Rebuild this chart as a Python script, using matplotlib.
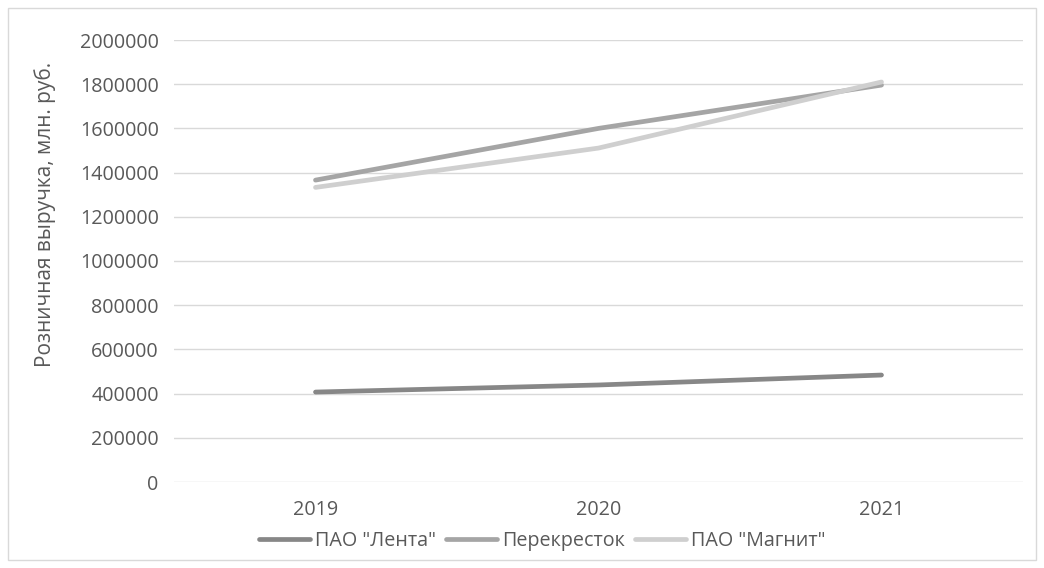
import matplotlib
matplotlib.use("Agg")
import matplotlib.pyplot as plt
from matplotlib.patches import Rectangle

years = ["2019", "2020", "2021"]
lenta = [407000, 439000, 484000]
perekrestok = [1366000, 1600000, 1796000]
magnit = [1333000, 1511000, 1810000]
series_names = ['ПАО "Лента"', 'Перекресток', 'ПАО "Магнит"']
colors = ["#878787", "#a5a5a5", "#cfcfcf"]
yticks = list(range(0, 2000001, 200000))

plt.rcParams['font.family'] = ['Open Sans', 'DejaVu Sans']
FS = 14.2

fig = plt.figure(figsize=(10.44, 5.68), dpi=100)
ax = fig.add_axes([174/1044, 1-482/568, (1023-174)/1044, (482-40)/568])

x = list(range(len(years)))
for vals, name, c in zip([lenta, perekrestok, magnit], series_names, colors):
    ax.plot(x, vals, color=c, lw=3.4, solid_capstyle='round', label=name, zorder=3)

ax.set_xlim(-0.5, len(years) - 0.5)
ax.set_ylim(0, 2000000)
ax.set_yticks(yticks)
ax.set_yticklabels([str(v) for v in yticks])
ax.set_xticks(x)
ax.set_xticklabels(years)
ax.tick_params(axis='both', length=0, colors='#595959', labelsize=FS)
ax.tick_params(axis='y', pad=11)
ax.tick_params(axis='x', pad=13)
ax.grid(axis='y', color='#d9d9d9', lw=1)
ax.set_axisbelow(True)
for s in ax.spines.values():
    s.set_visible(False)
ax.set_ylabel("Розничная выручка, млн. руб.", color='#595959', fontsize=15)
ax.yaxis.set_label_coords((56 - 174) / (1023 - 174), (482 - 214) / 442)

leg = fig.legend(loc='center', bbox_to_anchor=(542/1044, 1-541/568), ncol=3, frameon=False,
                 fontsize=FS, handlelength=2.6, columnspacing=0.5, handletextpad=0.25,
                 labelcolor='#595959')
for h in leg.get_lines():
    h.set_linewidth(3.4)

fig.patches.append(Rectangle((8/1044, 8/568), 1028/1044, 552/568, transform=fig.transFigure,
                             fill=False, edgecolor='#d9d9d9', lw=1))

fig.savefig("out.png", dpi=100, facecolor='white')
